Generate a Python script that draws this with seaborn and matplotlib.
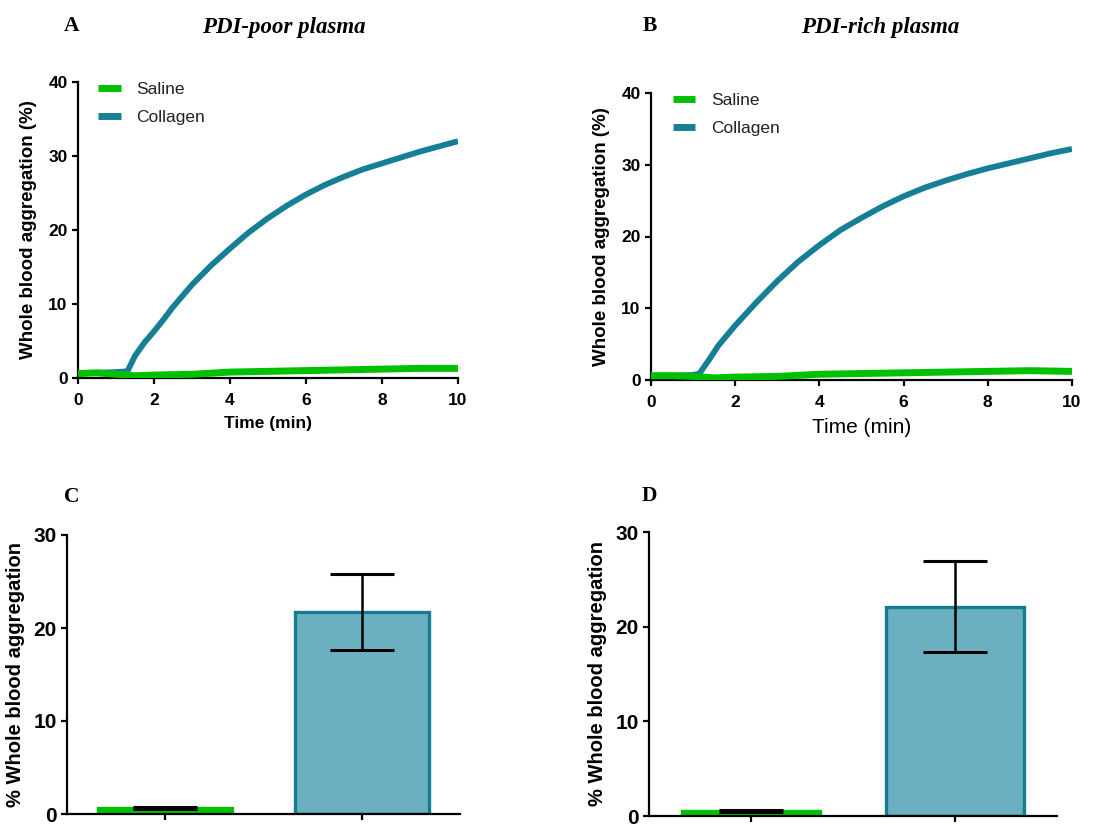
import numpy as np
import pandas as pd
import matplotlib
matplotlib.use("Agg")
import matplotlib.pyplot as plt
import seaborn as sns

# ---------------- data ----------------
time_A_coll = [0, 0.5, 1.0, 1.3, 1.5, 1.75, 2.0, 2.25, 2.5, 2.75, 3.0, 3.5, 4.0, 4.5,
               5.0, 5.5, 6.0, 6.5, 7.0, 7.5, 8.0, 8.5, 9.0, 9.5, 10.0]
coll_A = [0.6, 0.7, 0.8, 0.9, 3.0, 4.8, 6.3, 7.9, 9.6, 11.1, 12.6, 15.2, 17.5, 19.7,
          21.6, 23.3, 24.8, 26.1, 27.2, 28.2, 29.0, 29.8, 30.6, 31.3, 32.0]
time_A_sal = [0, 0.5, 1.0, 1.5, 2.0, 3.0, 4.0, 5.0, 6.0, 7.0, 8.0, 9.0, 10.0]
sal_A = [0.6, 0.7, 0.5, 0.3, 0.4, 0.5, 0.8, 0.9, 1.0, 1.1, 1.2, 1.3, 1.3]

time_B_coll = [0, 0.5, 1.0, 1.15, 1.4, 1.6, 2.0, 2.5, 3.0, 3.5, 4.0, 4.5, 5.0, 5.5,
               6.0, 6.5, 7.0, 7.5, 8.0, 8.5, 9.0, 9.5, 10.0]
coll_B = [0.6, 0.6, 0.7, 0.9, 3.0, 4.8, 7.6, 10.8, 13.8, 16.5, 18.8, 20.9, 22.6, 24.2,
          25.6, 26.8, 27.8, 28.7, 29.5, 30.2, 30.9, 31.6, 32.2]
time_B_sal = [0, 0.5, 1.0, 1.5, 2.0, 3.0, 4.0, 5.0, 6.0, 7.0, 8.0, 9.0, 10.0]
sal_B = [0.6, 0.6, 0.5, 0.3, 0.4, 0.5, 0.8, 0.9, 1.0, 1.1, 1.2, 1.3, 1.2]

bar_groups = ["Saline", "Collagen"]
bar_C_mean = [0.6, 21.7]
bar_C_err = [0.1, 4.1]
bar_D_mean = [0.5, 22.1]
bar_D_err = [0.1, 4.8]

titles = ["PDI-poor plasma", "PDI-rich plasma"]

GREEN = "#00c000"
TEAL = "#167f96"
BAR_FILL = "#6bb0c0"
BAR_EDGE = "#137c92"

sns.set_theme(style="ticks")
plt.rcParams['font.family'] = ['Liberation Sans', 'DejaVu Sans']
plt.rcParams['text.color'] = 'black'
plt.rcParams['axes.labelcolor'] = 'black'
plt.rcParams['xtick.color'] = 'black'
plt.rcParams['ytick.color'] = 'black'

fig = plt.figure(figsize=(11.14, 8.25), dpi=100)

def px_axes(l, t, r, b):
    W, H = 1114, 825
    return fig.add_axes([l / W, 1 - b / H, (r - l) / W, (b - t) / H])

def style_axes(ax, fs, xpad=3, ypad=3):
    for s in ["top", "right"]:
        ax.spines[s].set_visible(False)
    for s in ["left", "bottom"]:
        ax.spines[s].set_linewidth(1.6)
        ax.spines[s].set_color("black")
    ax.tick_params(width=1.6, length=4.5, color="black", labelsize=fs, labelcolor="black")
    ax.tick_params(axis="x", pad=xpad)
    ax.tick_params(axis="y", pad=ypad)
    for lab in ax.get_xticklabels() + ax.get_yticklabels():
        lab.set_fontweight("bold")

def line_panel(ax, tc, c, ts, s, xlabel_bold, xlabel_fs):
    df = pd.concat([
        pd.DataFrame({"time": ts, "value": s, "treatment": "Saline"}),
        pd.DataFrame({"time": tc, "value": c, "treatment": "Collagen"}),
    ])
    sns.lineplot(data=df, x="time", y="value", hue="treatment",
                 palette={"Saline": GREEN, "Collagen": TEAL}, ax=ax,
                 linewidth=4.2, estimator=None, sort=True)
    ax.lines[0].set_zorder(3)
    ax.lines[0].set_linewidth(5.0)
    for ln in ax.lines:
        ln.set_solid_capstyle("butt")
    ax.set_xlim(0, 10)
    ax.set_ylim(0, 40)
    ax.set_xticks([0, 2, 4, 6, 8, 10])
    ax.set_yticks([0, 10, 20, 30, 40])
    ax.set_xlabel("Time (min)", fontsize=xlabel_fs,
                  fontweight="bold" if xlabel_bold else "normal", labelpad=6)
    ax.set_ylabel("Whole blood aggregation (%)", fontsize=13.5, fontweight="bold", labelpad=8)
    leg = ax.legend(loc="upper left", frameon=False, fontsize=12.5, handlelength=1.3,
                    handletextpad=0.9, borderaxespad=0.0, bbox_to_anchor=(0.035, 1.025),
                    labelspacing=0.75)
    for h in leg.legend_handles:
        h.set_linewidth(5)
        h.set_solid_capstyle("butt")
    for t in leg.get_texts():
        t.set_color("#222222")
    style_axes(ax, 12.5, xpad=6)

def bar_panel(ax, means, errs):
    sns.barplot(x=bar_groups, y=means, hue=bar_groups,
                palette={"Saline": GREEN, "Collagen": BAR_FILL},
                width=0.68, ax=ax, legend=False, errorbar=None, saturation=1)
    edges = [GREEN, BAR_EDGE]
    for p, ec in zip(ax.patches, edges):
        p.set_edgecolor(ec)
        p.set_linewidth(2.4)
        p.set_zorder(2)
    ax.errorbar(x=[0, 1], y=means, yerr=errs, fmt="none", ecolor="black",
                elinewidth=1.8, capsize=23, capthick=2.2, zorder=4)
    ax.set_xlim(-0.5, 1.5)
    ax.set_ylim(0, 30)
    ax.set_yticks([0, 10, 20, 30])
    ax.set_xticks([0, 1])
    ax.set_xticklabels(["", ""])
    ax.set_xlabel("")
    ax.set_ylabel("% Whole blood aggregation", fontsize=14.5, fontweight="bold", labelpad=6)
    style_axes(ax, 15)

axA = px_axes(78, 82, 458, 378)
line_panel(axA, time_A_coll, coll_A, time_A_sal, sal_A, True, 12.5)
axB = px_axes(651, 93, 1072, 380)
line_panel(axB, time_B_coll, coll_B, time_B_sal, sal_B, False, 15)
axC = px_axes(67, 535, 460, 814)
bar_panel(axC, bar_C_mean, bar_C_err)
axD = px_axes(649, 532, 1057, 816)
bar_panel(axD, bar_D_mean, bar_D_err)

serif = ["Liberation Serif", "DejaVu Serif"]
def figtext_px(x, y, s, **kw):
    fig.text(x / 1114, 1 - y / 825, s, family=serif, **kw)

figtext_px(64, 26, "A", fontsize=15.5, fontweight="bold", va="center")
figtext_px(284, 28, titles[0], fontsize=16.5, fontweight="bold", style="italic",
           ha="center", va="center")
figtext_px(643, 26, "B", fontsize=15.5, fontweight="bold", va="center")
figtext_px(880, 28, titles[1], fontsize=16.5, fontweight="bold", style="italic",
           ha="center", va="center")
figtext_px(64, 497, "C", fontsize=15.5, fontweight="bold", va="center")
figtext_px(642, 496, "D", fontsize=15.5, fontweight="bold", va="center")

fig.savefig("out.png", dpi=100)
